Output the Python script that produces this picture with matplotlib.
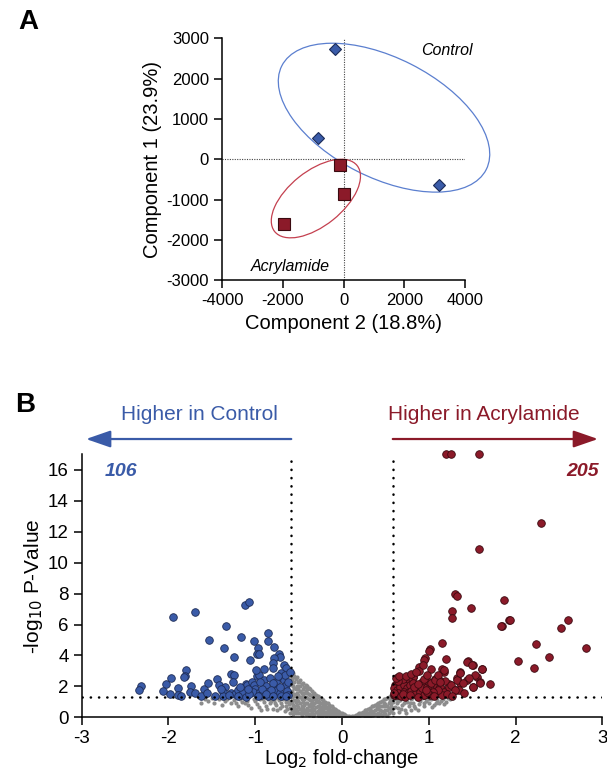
import numpy as np
import matplotlib
matplotlib.use('Agg')
import matplotlib.pyplot as plt
import matplotlib.transforms as mtransforms
from matplotlib.patches import Ellipse

plt.rcParams['font.family'] = ['Liberation Sans', 'DejaVu Sans']
plt.rcParams['axes.unicode_minus'] = False

# ---- Panel A: PCA scores ----
ctrl_c2 = [-290, -830, 3150]
ctrl_c1 = [2730, 520, -630]
acr_c2 = [-110, 10, -1960]
acr_c1 = [-140, -870, -1610]

# ---- Panel B: volcano plot (log2 FC, -log10 p) ----
blue_pts = [
    (-2.32, 2.02), (-2.34, 1.75), (-1.95, 6.47), (-1.69, 6.83), (-1.12, 7.24), (-1.07, 7.44),
    (-1.34, 5.91), (-1.53, 5.02), (-1.36, 4.48), (-1.16, 5.21), (-0.85, 5.43), (-0.85, 4.94),
    (-1.02, 4.94), (-0.97, 4.50), (-0.78, 4.57), (-0.98, 4.07), (-0.96, 4.07), (-1.24, 3.90),
    (-1.06, 3.69), (-0.73, 4.09), (-0.71, 3.92), (-0.78, 3.86), (-0.79, 3.51), (-0.79, 3.21),
    (-0.90, 3.14), (-0.67, 3.38), (-0.64, 3.16), (-0.70, 2.87), (-1.80, 3.08), (-1.81, 2.69),
    (-1.82, 2.58), (-1.97, 2.52), (-2.03, 2.13), (-2.06, 1.70), (-1.98, 1.51), (-1.89, 1.88),
    (-1.89, 1.41), (-1.86, 1.39), (-1.74, 2.02), (-1.75, 1.66), (-1.70, 1.59), (-1.59, 1.81),
    (-1.55, 2.22), (-1.44, 2.50), (-1.42, 2.09), (-1.35, 1.98), (-1.37, 1.66), (-1.37, 1.36),
    (-1.28, 2.82), (-1.25, 2.74), (-1.26, 2.30), (-1.28, 1.55), (-1.23, 1.51), (-1.20, 1.75),
    (-1.16, 1.43), (-1.14, 1.62), (-1.11, 2.18), (-1.09, 2.08), (-1.04, 2.29), (-1.01, 2.08),
    (-1.00, 1.84), (-1.03, 1.66), (-0.98, 2.69), (-0.96, 2.74), (-0.90, 2.44), (-0.88, 2.00),
    (-0.87, 1.66), (-0.95, 1.62), (-0.93, 1.41), (-0.83, 2.57), (-0.76, 2.09), (-0.75, 1.77),
    (-0.71, 1.55), (-0.69, 2.57), (-0.67, 2.38), (-0.65, 2.09), (-0.63, 1.70), (-0.62, 1.45),
    (-0.76, 2.30), (-0.80, 2.22), (-0.85, 1.39), (-1.20, 1.39), (-1.11, 1.33), (-0.92, 1.85),
    (-1.07, 1.50), (-0.82, 1.75), (-0.72, 1.95), (-0.66, 2.75), (-0.62, 2.25), (-1.30, 1.45),
    (-1.46, 1.40), (-1.62, 1.36), (-0.97, 1.38), (-0.88, 1.50), (-0.79, 1.40), (-1.18, 1.95),
    (-0.94, 2.25), (-0.70, 1.40), (-1.08, 1.80), (-0.99, 3.05), (-0.74, 2.65), (-0.60, 2.95),
    (-0.64, 1.35), (-1.40, 1.85), (-1.56, 1.55),
]

red_pts = [
    (1.20, 17.0), (1.26, 17.0), (1.58, 17.0), (2.29, 12.59), (1.58, 10.91), (1.30, 7.98),
    (1.33, 7.85), (1.27, 6.90), (1.27, 6.40), (1.49, 7.07), (1.87, 7.59), (1.92, 6.27),
    (1.94, 6.27), (1.84, 5.89), (2.24, 4.74), (2.39, 3.88), (2.03, 3.64), (2.21, 3.16),
    (2.52, 5.80), (2.60, 6.32), (2.81, 4.50), (1.15, 4.81), (1.20, 3.77), (1.01, 4.42),
    (1.00, 4.31), (0.96, 3.86), (0.94, 3.71), (0.89, 3.25), (0.89, 3.00), (1.03, 3.15),
    (1.15, 3.15), (1.17, 2.91), (1.45, 3.62), (1.51, 3.36), (1.61, 3.13), (1.55, 2.63),
    (1.59, 2.28), (1.51, 1.94), (1.44, 2.43), (1.36, 2.91), (1.32, 2.54), (1.36, 2.20),
    (1.31, 1.77), (1.35, 1.77), (1.71, 2.15), (1.25, 2.09), (1.23, 2.13), (1.19, 2.37),
    (1.12, 2.41), (1.09, 2.13), (1.17, 1.77), (1.15, 1.55), (1.09, 1.55), (1.07, 2.48),
    (1.05, 2.09), (1.01, 1.81), (0.99, 2.20), (0.96, 1.94), (0.94, 1.45), (0.92, 2.30),
    (0.90, 1.98), (0.86, 1.72), (0.84, 1.87), (0.82, 2.59), (0.81, 2.30), (0.78, 2.46),
    (0.76, 1.98), (0.75, 2.20), (0.72, 2.41), (0.71, 1.87), (0.68, 2.09), (0.66, 1.77),
    (0.63, 1.98), (0.61, 1.66), (0.65, 1.45), (0.60, 1.45), (0.82, 2.63), (0.76, 2.46),
    (0.73, 2.37), (0.69, 2.31), (0.65, 2.20), (0.61, 2.09), (0.60, 1.87), (0.63, 1.77),
    (0.67, 1.98), (0.71, 2.09), (0.75, 1.87), (0.78, 2.09), (0.82, 2.20), (0.86, 1.98),
    (0.65, 1.55), (0.71, 1.66), (0.76, 1.55), (0.80, 1.72), (0.84, 1.51), (0.90, 1.66),
    (0.94, 1.44), (0.61, 1.44), (0.60, 1.60), (0.68, 1.38), (0.73, 1.33), (0.87, 1.33),
    (0.92, 1.87), (0.98, 1.98), (1.00, 2.31), (1.03, 2.20), (1.07, 2.41), (1.11, 2.74),
    (1.17, 3.06), (1.13, 1.98), (1.18, 1.66), (1.15, 1.44), (1.11, 1.77), (1.05, 1.66),
    (1.01, 1.44), (0.98, 1.66), (1.23, 1.98), (1.26, 2.09), (1.30, 1.77), (1.32, 2.41),
    (1.36, 2.85), (1.44, 3.60), (1.50, 3.38), (1.61, 3.10), (1.53, 2.74), (1.59, 2.24),
    (1.46, 2.52), (1.39, 2.20), (1.51, 1.98), (1.83, 5.91), (0.70, 2.50), (0.64, 2.35),
    (0.62, 2.55), (0.66, 2.65), (0.74, 2.70), (0.79, 2.80), (0.70, 1.50), (0.78, 1.42),
    (0.83, 1.95), (0.88, 2.15), (0.95, 2.45), (0.97, 1.75), (1.06, 1.35), (1.21, 1.50),
    (1.27, 1.40), (0.85, 2.90), (0.93, 3.40), (0.98, 2.75), (1.13, 2.25), (1.41, 1.60),
]

grey_pts = [
    (-1.62, 0.95), (-1.55, 1.05), (-1.48, 0.90), (-1.42, 1.15), (-1.38, 0.80), (-1.33, 1.20),
    (-1.28, 0.95), (-1.25, 1.10), (-1.20, 0.70), (-1.17, 1.20), (-1.12, 0.90), (-1.10, 1.05),
    (-1.05, 0.60), (-1.02, 1.15), (-0.98, 0.85), (-0.95, 1.20), (-0.93, 0.50), (-0.90, 1.00),
    (-0.88, 0.75), (-0.85, 1.20), (-0.83, 0.90), (-0.80, 0.55), (-0.78, 1.10), (-0.76, 0.80),
    (-0.74, 1.25), (-0.72, 0.60), (-0.70, 0.95), (-0.68, 1.15), (-0.66, 0.40), (-0.64, 0.75),
    (-0.62, 1.05), (-0.66, 1.25), (-0.70, 1.22), (-0.60, 0.30), (-0.63, 0.55), (-0.75, 0.45),
    (-1.58, 1.20), (-1.50, 1.25), (-1.35, 1.05), (-1.22, 0.95), (-1.15, 1.00), (-1.08, 0.80),
    (-1.00, 1.05), (-0.96, 0.65), (-0.91, 1.20), (-0.86, 0.55), (-0.82, 1.05), (-0.77, 0.95),
    (-0.73, 1.10), (-0.69, 0.70), (-0.65, 1.00), (-0.61, 0.85),
    (-0.58, 2.90), (-0.58, 2.50), (-0.58, 2.10), (-0.58, 1.70), (-0.58, 1.30), (-0.58, 0.90),
    (-0.58, 0.50), (-0.55, 2.70), (-0.55, 2.30), (-0.55, 1.90), (-0.55, 1.50), (-0.55, 1.10),
    (-0.55, 0.70), (-0.55, 0.35), (-0.52, 2.60), (-0.52, 2.00), (-0.52, 1.60), (-0.52, 1.20),
    (-0.52, 0.80), (-0.52, 0.40), (-0.48, 2.40), (-0.48, 2.00), (-0.48, 1.70), (-0.48, 1.30),
    (-0.48, 0.90), (-0.48, 0.55), (-0.48, 0.25), (-0.45, 2.20), (-0.45, 1.80), (-0.45, 1.40),
    (-0.45, 1.00), (-0.45, 0.60), (-0.45, 0.30), (-0.42, 2.10), (-0.42, 1.70), (-0.42, 1.30),
    (-0.42, 0.95), (-0.42, 0.50), (-0.42, 0.20), (-0.38, 1.90), (-0.38, 1.50), (-0.38, 1.15),
    (-0.38, 0.80), (-0.38, 0.45), (-0.38, 0.15), (-0.35, 1.70), (-0.35, 1.35), (-0.35, 1.00),
    (-0.35, 0.65), (-0.35, 0.30), (-0.32, 1.60), (-0.32, 1.25), (-0.32, 0.90), (-0.32, 0.55),
    (-0.32, 0.20), (-0.28, 1.40), (-0.28, 1.05), (-0.28, 0.75), (-0.28, 0.40), (-0.28, 0.12),
    (-0.25, 1.25), (-0.25, 0.95), (-0.25, 0.60), (-0.25, 0.30), (-0.22, 1.10), (-0.22, 0.80),
    (-0.22, 0.50), (-0.22, 0.20), (-0.18, 0.95), (-0.18, 0.65), (-0.18, 0.35), (-0.18, 0.10),
    (-0.15, 0.80), (-0.15, 0.55), (-0.15, 0.25), (-0.12, 0.70), (-0.12, 0.45), (-0.12, 0.15),
    (-0.08, 0.55), (-0.08, 0.30), (-0.08, 0.08), (-0.05, 0.40), (-0.05, 0.20), (-0.02, 0.30),
    (-0.02, 0.10), (0.02, 0.20), (0.02, 0.05), (0.06, 0.10), (0.06, 0.02), (0.10, 0.03),
    (-0.56, 2.85), (-0.50, 2.25), (-0.46, 1.55), (-0.40, 1.85), (-0.36, 0.85), (-0.30, 1.15),
    (-0.26, 0.50), (-0.20, 0.75), (-0.14, 0.35), (-0.10, 0.60), (-0.53, 1.35), (-0.57, 0.65),
    (-0.595, 2.70), (-0.595, 2.20), (-0.595, 1.50), (-0.595, 1.00), (-0.595, 0.60),
    (-0.565, 2.60), (-0.565, 2.00), (-0.565, 1.40), (-0.565, 0.80), (-0.565, 0.45), (-0.565, 0.20),
    (-0.535, 2.45), (-0.535, 1.80), (-0.535, 1.00), (-0.535, 0.55), (-0.535, 0.25),
    (-0.505, 2.30), (-0.505, 1.85), (-0.505, 1.45), (-0.505, 1.05), (-0.505, 0.65), (-0.505, 0.30),
    (-0.465, 2.15), (-0.465, 1.60), (-0.465, 1.15), (-0.465, 0.75), (-0.465, 0.40), (-0.465, 0.12),
    (-0.435, 1.95), (-0.435, 1.55), (-0.435, 1.15), (-0.435, 0.80), (-0.435, 0.40),
    (-0.40, 2.00), (-0.40, 1.60), (-0.40, 1.25), (-0.40, 0.90), (-0.40, 0.60), (-0.40, 0.30),
    (-0.365, 1.80), (-0.365, 1.45), (-0.365, 1.10), (-0.365, 0.75), (-0.365, 0.50), (-0.365, 0.22),
    (-0.335, 1.50), (-0.335, 1.15), (-0.335, 0.80), (-0.335, 0.45), (-0.335, 0.10),
    (-0.30, 1.45), (-0.30, 1.00), (-0.30, 0.65), (-0.30, 0.35),
    (-0.265, 1.30), (-0.265, 1.00), (-0.265, 0.70), (-0.265, 0.25), (-0.265, 0.05),
    (-0.235, 1.20), (-0.235, 0.90), (-0.235, 0.65), (-0.235, 0.40), (-0.235, 0.10),
    (-0.20, 1.00), (-0.20, 0.60), (-0.20, 0.30), (-0.165, 0.90), (-0.165, 0.60),
    (-0.165, 0.45), (-0.165, 0.20), (-0.135, 0.75), (-0.135, 0.50), (-0.135, 0.30),
    (-0.135, 0.05), (-0.10, 0.45), (-0.10, 0.25), (-0.10, 0.10), (-0.065, 0.45),
    (-0.065, 0.15), (-0.035, 0.35), (-0.035, 0.05), (0.00, 0.25), (0.00, 0.12),
    (0.04, 0.15), (0.08, 0.08), (0.12, 0.06), (0.16, 0.15), (0.20, 0.25), (0.20, 0.10),
    (0.14, 0.10), (0.14, 0.03), (0.18, 0.20), (0.18, 0.06), (0.22, 0.30), (0.22, 0.12),
    (0.26, 0.45), (0.26, 0.20), (0.26, 0.05), (0.30, 0.55), (0.30, 0.30), (0.30, 0.10),
    (0.34, 0.70), (0.34, 0.40), (0.34, 0.15), (0.38, 0.80), (0.38, 0.50), (0.38, 0.22),
    (0.42, 0.95), (0.42, 0.60), (0.42, 0.30), (0.42, 0.10), (0.46, 1.05), (0.46, 0.75),
    (0.46, 0.40), (0.46, 0.15), (0.50, 1.20), (0.50, 0.85), (0.50, 0.50), (0.50, 0.20),
    (0.54, 1.30), (0.54, 0.95), (0.54, 0.60), (0.54, 0.30), (0.57, 1.45), (0.57, 1.10),
    (0.57, 0.75), (0.57, 0.40), (0.32, 0.45), (0.40, 0.65), (0.48, 0.95), (0.55, 1.05),
    (0.24, 0.35), (0.24, 0.15), (0.28, 0.50), (0.28, 0.25), (0.32, 0.60), (0.32, 0.25),
    (0.32, 0.05), (0.36, 0.75), (0.36, 0.35), (0.36, 0.12), (0.40, 0.85), (0.40, 0.55),
    (0.40, 0.20), (0.44, 1.00), (0.44, 0.70), (0.44, 0.45), (0.44, 0.20), (0.48, 1.15),
    (0.48, 0.70), (0.48, 0.35), (0.52, 1.25), (0.52, 0.75), (0.52, 0.45), (0.52, 0.10),
    (0.56, 1.35), (0.56, 1.20), (0.56, 0.90), (0.56, 0.55), (0.59, 1.50), (0.59, 1.00),
    (0.59, 0.60), (0.59, 0.30),
    (0.62, 1.20), (0.63, 0.90), (0.65, 0.60), (0.67, 1.10), (0.69, 0.80), (0.71, 1.25),
    (0.73, 0.50), (0.75, 1.00), (0.77, 0.70), (0.79, 1.20), (0.82, 0.90), (0.84, 0.60),
    (0.86, 1.15), (0.89, 0.85), (0.92, 1.25), (0.94, 0.70), (0.97, 1.05), (1.00, 0.90),
    (1.03, 1.20), (1.06, 0.80), (1.09, 1.10), (1.12, 0.95), (1.16, 1.20), (1.20, 1.00),
    (1.24, 1.15), (1.28, 1.25), (0.66, 0.35), (0.80, 0.45), (0.61, 0.65), (0.64, 1.05),
    (0.68, 0.55), (0.72, 0.90), (0.74, 0.30), (0.78, 0.95), (0.81, 1.25), (0.83, 0.75),
    (0.87, 0.50), (0.90, 1.05), (0.95, 0.95), (0.99, 1.15), (1.04, 0.65), (1.08, 0.95),
    (1.14, 1.05), (1.18, 0.85), (1.22, 1.25),
]

blue_x, blue_y = zip(*blue_pts)
red_x, red_y = zip(*red_pts)
grey_x, grey_y = zip(*grey_pts)

n_ctrl, n_acr = 106, 205
fc_cut = np.log2(1.5)
p_cut = -np.log10(0.05)

BLUE = '#3a5ba8'
RED = '#8b1a29'

fig = plt.figure(figsize=(6.07, 7.72), dpi=100)

# ---------------- Panel A ----------------
axA = fig.add_axes([0.366, 0.637, 0.400, 0.3135])
axA.set_xlim(-4000, 4000)
axA.set_ylim(-3000, 3000)
axA.axhline(0, color='#444444', lw=0.8, ls=(0, (1, 1.2)), zorder=1)
axA.axvline(0, color='#444444', lw=0.8, ls=(0, (1, 1.2)), zorder=1)

# confidence ellipses (size in screen pixels, centred in data units)
for (cx, cy), a, b, ang, col in [((1333, 1030), 114.6, 59.9, -26.9, '#5b7fcf'),
                                 ((-912, -975), 52.8, 27.3, 38.7, '#c4404f')]:
    tr = fig.dpi_scale_trans + mtransforms.ScaledTranslation(cx, cy, axA.transData)
    axA.add_patch(Ellipse((0, 0), 2 * a / 100, 2 * b / 100, angle=ang, transform=tr,
                          fill=False, ec=col, lw=0.9, clip_on=False, zorder=2))

axA.plot(ctrl_c2, ctrl_c1, 'D', ms=6.5, mfc=BLUE, mec='#1b2b58', mew=0.8, zorder=3)
axA.plot(acr_c2, acr_c1, 's', ms=8.5, mfc=RED, mec='#3a0a10', mew=0.8, zorder=3)

axA.text(3400, 2700, 'Control', style='italic', fontsize=11.5, ha='center', va='center')
axA.text(-1760, -2655, 'Acrylamide', style='italic', fontsize=11.5, ha='center', va='center')

axA.set_xticks([-4000, -2000, 0, 2000, 4000])
axA.set_yticks(np.arange(-3000, 3001, 1000))
axA.tick_params(labelsize=12, width=1.1, length=6, direction='out')
for s in ['top', 'right']:
    axA.spines[s].set_visible(False)
for s in ['left', 'bottom']:
    axA.spines[s].set_linewidth(1.1)
axA.set_xlabel('Component 2 (18.8%)', fontsize=14.5, labelpad=4)
axA.set_ylabel('Component 1 (23.9%)', fontsize=14.5, labelpad=3)

# ---------------- Panel B ----------------
axB = fig.add_axes([0.1346, 0.0709, 0.8577, 0.3404])
axB.set_xlim(-3, 3)
axB.set_ylim(0, 17)

axB.scatter(grey_x, grey_y, s=9, color='#8c8c8c', linewidths=0, zorder=2)
axB.scatter(blue_x, blue_y, s=30, color=BLUE, edgecolors='#1d2c55', linewidths=0.6,
            zorder=3, clip_on=False)
axB.scatter(red_x, red_y, s=30, color=RED, edgecolors='#3a0a10', linewidths=0.6,
            zorder=3, clip_on=False)

dots = dict(color='black', lw=1.8, ls=(0, (0.1, 3.2)), dash_capstyle='round', zorder=4)
axB.axhline(p_cut, **dots)
axB.axvline(-fc_cut, **dots)
axB.axvline(fc_cut, **dots)

axB.text(-2.55, 15.9, str(n_ctrl), color=BLUE, fontsize=14, fontweight='bold',
         style='italic', ha='center', va='center')
axB.text(2.77, 15.9, str(n_acr), color=RED, fontsize=14, fontweight='bold',
         style='italic', ha='center', va='center')

head = '-|>,head_length=0.75,head_width=0.26'
axB.annotate('', xy=(-2.95, 18.0), xytext=(-fc_cut, 18.0), annotation_clip=False,
             arrowprops=dict(arrowstyle=head, color=BLUE, lw=1.6, mutation_scale=20,
                             shrinkA=0, shrinkB=0))
axB.annotate('', xy=(2.95, 18.0), xytext=(fc_cut, 18.0), annotation_clip=False,
             arrowprops=dict(arrowstyle=head, color=RED, lw=1.6, mutation_scale=20,
                             shrinkA=0, shrinkB=0))
axB.text(-1.64, 19.6, 'Higher in Control', color=BLUE, fontsize=15, ha='center', va='center')
axB.text(1.63, 19.6, 'Higher in Acrylamide', color=RED, fontsize=15, ha='center', va='center')

axB.set_xticks(np.arange(-3, 4, 1))
axB.set_yticks(np.arange(0, 17, 2))
axB.tick_params(labelsize=13.5, width=1.1, length=6, direction='out')
for s in ['top', 'right']:
    axB.spines[s].set_visible(False)
for s in ['left', 'bottom']:
    axB.spines[s].set_linewidth(1.1)
axB.set_xlabel('Log$_2$ fold-change', fontsize=14.5, labelpad=0)
axB.set_ylabel('-log$_{10}$ P-Value', fontsize=15, labelpad=2)

fig.text(0.046, 0.971, 'A', fontsize=20, fontweight='bold', ha='center', va='center')
fig.text(0.041, 0.475, 'B', fontsize=20, fontweight='bold', ha='center', va='center')

fig.savefig('out.png', dpi=100)
